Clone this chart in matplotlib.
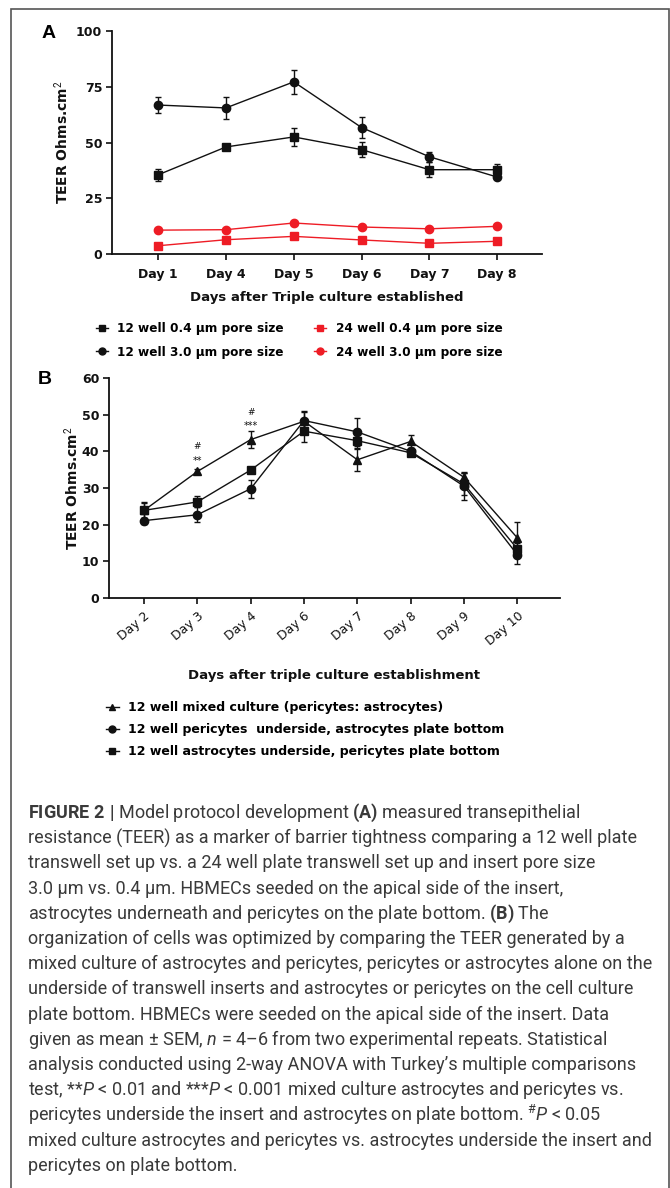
import matplotlib
matplotlib.use('Agg')
import matplotlib.pyplot as plt
from matplotlib.lines import Line2D
from matplotlib.patches import Rectangle

# ---------------- data ----------------
days_a = ['Day 1', 'Day 4', 'Day 5', 'Day 6', 'Day 7', 'Day 8']
a12_04 = [35.5, 48.0, 52.5, 46.8, 37.8, 37.8]
a12_04_err = [2.7, 1.0, 4.2, 3.4, 3.3, 2.6]
a12_30 = [66.8, 65.5, 77.2, 56.7, 43.6, 34.5]
a12_30_err = [3.4, 4.8, 5.3, 4.6, 2.2, 1.0]
a24_04 = [3.7, 6.4, 7.9, 6.3, 4.8, 5.7]
a24_30 = [10.7, 10.9, 13.9, 12.1, 11.3, 12.4]
legend_a = ['12 well 0.4 \u00b5m pore size', '12 well 3.0 \u00b5m pore size',
            '24 well 0.4 \u00b5m pore size', '24 well 3.0 \u00b5m pore size']

days_b = ['Day 2', 'Day 3', 'Day 4', 'Day 6', 'Day 7', 'Day 8', 'Day 9', 'Day 10']
b_mixed = [23.9, 34.5, 43.2, 48.2, 37.7, 42.7, 32.9, 16.4]
b_mixed_err = [2.0, 0.8, 2.4, 2.6, 3.0, 1.7, 1.5, 4.3]
b_peri = [21.1, 22.7, 29.8, 48.4, 45.3, 40.0, 30.5, 11.8]
b_peri_err = [0.8, 2.0, 2.5, 2.6, 3.8, 0.8, 3.7, 2.4]
b_astro = [23.9, 26.2, 34.9, 45.5, 42.9, 39.6, 31.1, 13.4]
b_astro_err = [2.2, 1.5, 0.8, 3.0, 2.0, 0.8, 3.0, 1.5]
legend_b = ['12 well mixed culture (pericytes: astrocytes)',
            '12 well pericytes  underside, astrocytes plate bottom',
            '12 well astrocytes underside, pericytes plate bottom']
# significance marks: (day index, y value, text)
sig_marks = [(1, 37.3, '**'), (1, 41.4, '#'), (2, 47.0, '***'), (2, 50.6, '#')]

caption_lines = [
    r'$\mathbf{FIGURE\ 2\ |}$ Model protocol development $\mathbf{(A)}$ measured transepithelial',
    'resistance (TEER) as a marker of barrier tightness comparing a 12 well plate',
    'transwell set up vs. a 24 well plate transwell set up and insert pore size',
    '3.0 \u00b5m vs. 0.4 \u00b5m. HBMECs seeded on the apical side of the insert,',
    r'astrocytes underneath and pericytes on the plate bottom. $\mathbf{(B)}$ The',
    'organization of cells was optimized by comparing the TEER generated by a',
    'mixed culture of astrocytes and pericytes, pericytes or astrocytes alone on the',
    'underside of transwell inserts and astrocytes or pericytes on the cell culture',
    'plate bottom. HBMECs were seeded on the apical side of the insert. Data',
    'given as mean \u00b1 SEM, $\\mathit{n}$ = 4\u20136 from two experimental repeats. Statistical',
    'analysis conducted using 2-way ANOVA with Turkey\u2019s multiple comparisons',
    r'test, **$\mathit{P}$ < 0.01 and ***$\mathit{P}$ < 0.001 mixed culture astrocytes and pericytes vs.',
    r'pericytes underside the insert and astrocytes on plate bottom. ${}^{\#}\mathit{P}$ < 0.05',
    'mixed culture astrocytes and pericytes vs. astrocytes underside the insert and',
    'pericytes on plate bottom.',
]

# ---------------- style ----------------
W, H = 670, 1188
plt.rcParams['font.family'] = ['DejaVu Sans']
plt.rcParams['mathtext.fontset'] = 'custom'
plt.rcParams['mathtext.bf'] = 'Roboto:bold'
plt.rcParams['mathtext.it'] = 'Roboto:italic'
plt.rcParams['mathtext.rm'] = 'Roboto'

fig = plt.figure(figsize=(W / 100, H / 100), dpi=100)

# frame around the figure
fig.add_artist(Rectangle((11 / W, -0.01), (669 - 11) / W, 1 - 9 / H + 0.01,
                         transform=fig.transFigure, fill=False,
                         edgecolor='#555555', lw=1.2))

tick_fs = 9
lab_fs = 9.5
legA_fs = 8.75
legB_fs = 9
RED = '#ee1c25'
INK = '#111111'


def fx(px):
    return px / W


def fy(py):
    return 1 - py / H


def style_axes(ax):
    for s in ('top', 'right'):
        ax.spines[s].set_visible(False)
    for s in ('left', 'bottom'):
        ax.spines[s].set_linewidth(1.3)
        ax.spines[s].set_color(INK)
    ax.tick_params(axis='both', length=4, width=1.2, color=INK,
                   labelsize=tick_fs, pad=3, labelcolor=INK)


# ---------------- panel A ----------------
axA = fig.add_axes([fx(112), fy(254), fx(542) - fx(112), fy(31) - fy(254)])
xa = list(range(len(days_a)))
ek = dict(capsize=2.5, elinewidth=1.0, capthick=1.0, lw=1.0, ms=6)
axA.errorbar(xa, a12_30, yerr=a12_30_err, fmt='-o', color=INK, **ek)
axA.errorbar(xa, a12_04, yerr=a12_04_err, fmt='-s', color=INK, **ek)
axA.plot(xa, a24_30, '-o', color=RED, lw=1.0, ms=6)
axA.plot(xa, a24_04, '-s', color=RED, lw=1.0, ms=6)
axA.set_xlim(-0.68, 5.66)
axA.set_ylim(0, 100)
axA.set_yticks([0, 25, 50, 75, 100])
axA.set_xticks(xa)
axA.set_xticklabels(days_a, fontweight='bold')
for t in axA.get_yticklabels():
    t.set_fontweight('bold')
style_axes(axA)
axA.tick_params(axis='x', pad=6)
axA.set_xlabel('Days after Triple culture established', fontsize=lab_fs,
               fontweight='bold', va='center', color=INK)
axA.xaxis.set_label_coords(0.5, -43 / 223)
axA.set_ylabel('TEER Ohms.cm$^{2}$', fontsize=lab_fs + 0.5, fontweight='bold',
               va='center', color=INK)
axA.yaxis.set_label_coords((62 - 112) / 430, 0.5)

hA = [Line2D([], [], color=INK, marker='s', ms=5, lw=1),
      Line2D([], [], color=INK, marker='o', ms=5, lw=1),
      Line2D([], [], color=RED, marker='s', ms=5, lw=1),
      Line2D([], [], color=RED, marker='o', ms=5, lw=1)]
legA = fig.legend(hA, legend_a, ncol=2, loc='upper left',
                  bbox_to_anchor=(fx(96), fy(322)), frameon=False,
                  prop=dict(size=legA_fs, weight='bold'), handlelength=1.0,
                  handletextpad=0.75, columnspacing=2.5, labelspacing=0.88,
                  borderpad=0, borderaxespad=0)

fig.text(fx(49), fy(34), 'A', fontsize=14, fontweight='bold', ha='center', va='center',
         family='Liberation Sans')

# ---------------- panel B ----------------
axB = fig.add_axes([fx(109), fy(598), fx(560) - fx(109), fy(378) - fy(598)])
xb = list(range(len(days_b)))
ekb = dict(capsize=2.5, elinewidth=1.0, capthick=1.0, lw=1.0, ms=6, color=INK)
axB.errorbar(xb, b_mixed, yerr=b_mixed_err, fmt='-^', **ekb)
axB.errorbar(xb, b_peri, yerr=b_peri_err, fmt='-o', **ekb)
axB.errorbar(xb, b_astro, yerr=b_astro_err, fmt='-s', **ekb)
for i, yv, s in sig_marks:
    axB.text(xb[i], yv, s, ha='center', va='center', fontsize=6.5 if s == '#' else 7,
             color=INK)
axB.set_xlim(-0.657, 7.8)
axB.set_ylim(0, 60)
axB.set_yticks(range(0, 61, 10))
axB.set_xticks(xb)
axB.set_xticklabels(days_b, rotation=40, ha='right', va='top', rotation_mode='anchor')
for t in axB.get_yticklabels():
    t.set_fontweight('bold')
style_axes(axB)
axB.tick_params(axis='x', pad=4)
axB.set_xlabel('Days after triple culture establishment', fontsize=lab_fs,
               fontweight='bold', va='center', color=INK)
axB.xaxis.set_label_coords(0.5, -(675 - 598) / 220)
axB.set_ylabel('TEER Ohms.cm$^{2}$', fontsize=lab_fs + 0.5, fontweight='bold',
               va='center', color=INK)
axB.yaxis.set_label_coords((72 - 109) / 451, 0.5)

hB = [Line2D([], [], color=INK, marker='^', ms=5, lw=1),
      Line2D([], [], color=INK, marker='o', ms=5, lw=1),
      Line2D([], [], color=INK, marker='s', ms=5, lw=1)]
legB = fig.legend(hB, legend_b, ncol=1, loc='upper left',
                  bbox_to_anchor=(fx(106), fy(701)), frameon=False,
                  prop=dict(size=legB_fs, weight='bold'), handlelength=1.0,
                  handletextpad=0.75, labelspacing=0.72,
                  borderpad=0, borderaxespad=0)

fig.text(fx(45), fy(380), 'B', fontsize=14, fontweight='bold', ha='center', va='center',
         family='Liberation Sans')

# ---------------- caption ----------------
cap_fs = 12.5
texts = []
for i, line in enumerate(caption_lines):
    t = fig.text(fx(28), fy(813 + 25.2 * i), line, fontsize=cap_fs, family='Roboto',
                 fontweight='normal', color='#3a3a3a', ha='left', va='center')
    texts.append(t)

# fit caption font size so the longest line spans the measured width
fig.canvas.draw()
r = fig.canvas.get_renderer()
wmax = texts[6].get_window_extent(r).width
scale = (650 - 28) / wmax
for t in texts:
    t.set_fontsize(cap_fs * scale)

fig.savefig('out.png', dpi=100)
